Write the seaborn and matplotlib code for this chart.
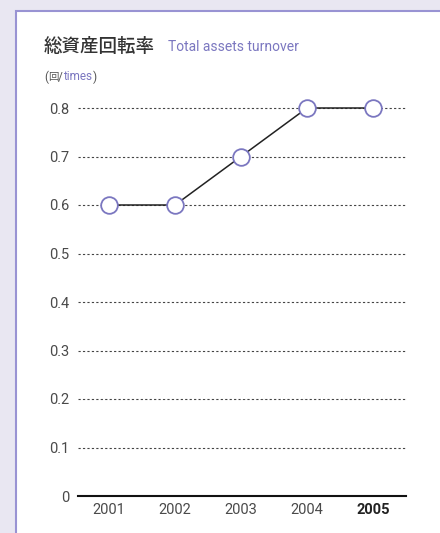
import seaborn as sns
import pandas as pd
from matplotlib import pyplot as plt

years = [2001, 2002, 2003, 2004, 2005]
turnover = [0.6, 0.6, 0.7, 0.8, 0.8]
y_ticks = [0, 0.1, 0.2, 0.3, 0.4, 0.5, 0.6, 0.7, 0.8]
y_labels = ['0', '0.1', '0.2', '0.3', '0.4', '0.5', '0.6', '0.7', '0.8']

purple = '#7b77c0'
lavender = '#e9e7f2'
latin = ['Roboto', 'DejaVu Sans']
jp = ['Noto Sans CJK JP', 'DejaVu Sans']

sns.set_style('white')
plt.rcParams['font.family'] = latin

df = pd.DataFrame({'year': years, 'value': turnover})

fig = plt.figure(figsize=(4.4, 5.33), dpi=100)
fig.patch.set_facecolor(lavender)

# white panel with purple border
panel = plt.Rectangle((16 / 440, -0.1), 1.0, 1 - 11 / 533 + 0.1, transform=fig.transFigure,
                      facecolor='white', edgecolor='#9993d3', linewidth=1.5, zorder=0)
fig.patches.append(panel)

ax = fig.add_axes([78 / 440, 37 / 533, 328 / 440, 388 / 533])
ax.set_zorder(2)
ax.set_facecolor('none')

sns.lineplot(data=df, x='year', y='value', ax=ax, color='#222222', linewidth=1.1,
             marker='o', markersize=12, markerfacecolor='white',
             markeredgecolor=purple, markeredgewidth=1.3, clip_on=False, zorder=5)

ax.set_xlim(2000.53, 2005.5)
ax.set_ylim(0, 0.8)
ax.set_yticks(y_ticks)
ax.set_yticklabels(y_labels)
ax.set_xticks(years)
ax.set_xticklabels([str(y) for y in years])
ax.tick_params(axis='both', length=0, labelsize=10.5, labelcolor='#4a4a4a')
ax.tick_params(axis='y', pad=6)
ax.tick_params(axis='x', pad=5)
ax.get_xticklabels()[-1].set_fontweight('bold')
ax.get_xticklabels()[-1].set_color('#222222')

for t in y_ticks[1:]:
    ax.axhline(t, color='#444444', linewidth=0.8, linestyle=(0, (2, 2)), zorder=1, clip_on=False)

for s in ['top', 'right', 'left']:
    ax.spines[s].set_visible(False)
ax.spines['bottom'].set_color('#111111')
ax.spines['bottom'].set_linewidth(1.5)
ax.set_xlabel('')
ax.set_ylabel('')

fig.text(44 / 440, 1 - 47 / 533, '総資産回転率', family=jp, fontsize=13.3, color='#333333',
         fontweight='medium', va='center', ha='left')
fig.text(168 / 440, 1 - 47 / 533, 'Total assets turnover', family=latin, fontsize=10,
         color=purple, va='center', ha='left')

# unit line: "(回/times)" in mixed colours, pieces placed one after another
fig.canvas.draw()
renderer = fig.canvas.get_renderer()
x_px = 44
parts = [('(', latin, '#555555', 8.5), ('回', jp, '#555555', 7.5), ('/', latin, '#555555', 8.5),
         ('times', latin, purple, 8.5), (')', latin, '#555555', 8.5)]
for s, fam, col, fs in parts:
    t = fig.text(x_px / 440, 1 - 77 / 533, s, family=fam, fontsize=fs, color=col,
                 va='center', ha='left')
    bb = t.get_window_extent(renderer)
    x_px += bb.width

fig.savefig('out.png', dpi=100, facecolor=lavender)
